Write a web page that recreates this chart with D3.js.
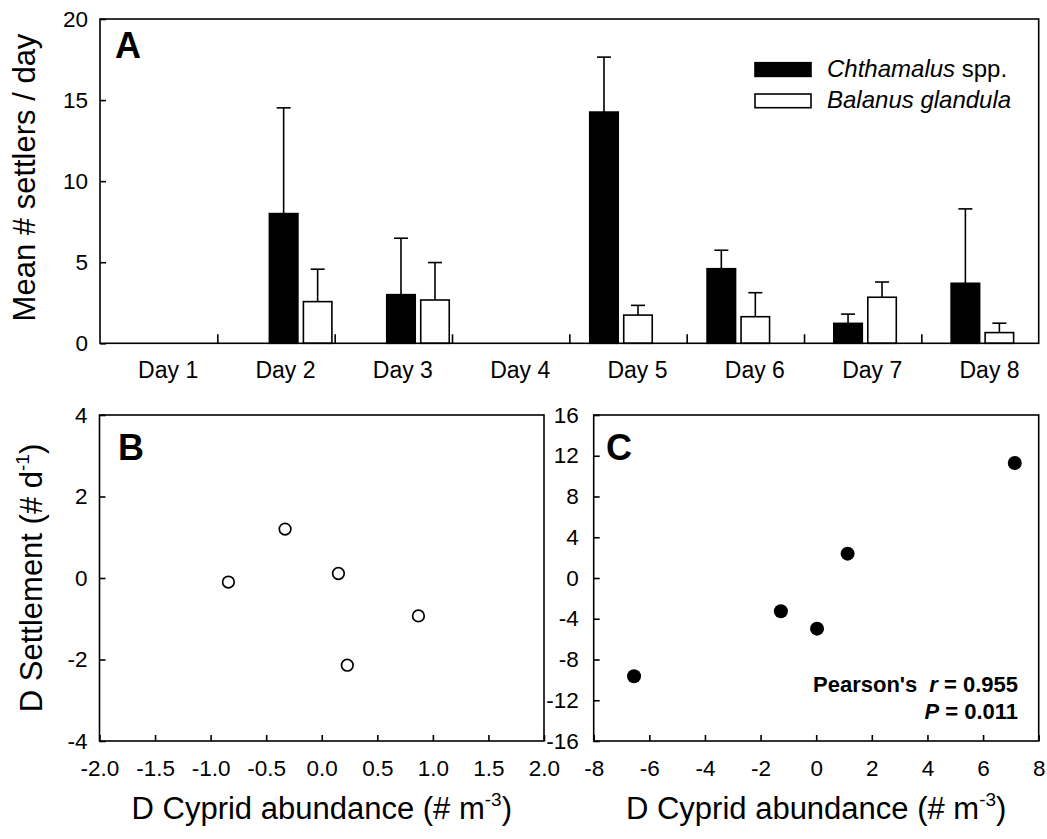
<!DOCTYPE html>
<html>
<head>
<meta charset="utf-8">
<script src="https://cdn.jsdelivr.net/npm/d3@7"></script>
<style>
  html, body { margin: 0; padding: 0; background: #fff; }
  svg { display: block; }
  text { font-family: "Liberation Sans", Arial, Helvetica, sans-serif; fill: #000; }
</style>
</head>
<body>
<svg id="chart" width="1047" height="839"></svg>
<script>
// ---------- Panel A data ----------
const days = ["Day 1", "Day 2", "Day 3", "Day 4", "Day 5", "Day 6", "Day 7", "Day 8"];
// plotted position of each day's bar pair (in day units, as in the original figure)
const barPos = [null, 2.21, 3.21, null, 4.94, 5.94, 7.02, 8.02];
const chthamalus   = [0, 8.0, 3.0, 0, 14.26, 4.6, 1.23, 3.7];
const chthamalusSE = [0, 6.52, 3.48, 0, 3.39, 1.14, 0.57, 4.59];
const balanus      = [0, 2.57, 2.67, 0, 1.74, 1.64, 2.84, 0.66];
const balanusSE    = [0, 2.0, 2.31, 0, 0.6, 1.48, 0.94, 0.58];
const seriesNames = ["Chthamalus", "Balanus glandula"];
const yTicksA = [0, 5, 10, 15, 20];

// ---------- Panel B data ----------
const cypridB = [-0.84, -0.33, 0.15, 0.23, 0.87];
const settleB = [-0.10, 1.20, 0.11, -2.14, -0.93];
const xTicksB = [-2.0, -1.5, -1.0, -0.5, 0.0, 0.5, 1.0, 1.5, 2.0];
const yTicksB = [-4, -2, 0, 2, 4];

// ---------- Panel C data ----------
const cypridC = [-6.55, -1.27, 0.03, 1.13, 7.14];
const settleC = [-9.65, -3.27, -4.97, 2.39, 11.29];
const xTicksC = [-8, -6, -4, -2, 0, 2, 4, 6, 8];
const yTicksC = [-16, -12, -8, -4, 0, 4, 8, 12, 16];
const pearsonR = "0.955";
const pearsonP = "0.011";

const svg = d3.select("#chart");
const STROKE = 1.6;
const fmtMinus = d => String(d).replace("\u2212", "-");

function frame(g, x0, x1, y0, y1) {
  g.append("rect").attr("x", x0).attr("y", y0).attr("width", x1 - x0).attr("height", y1 - y0)
    .attr("fill", "none").attr("stroke", "#000").attr("stroke-width", STROKE);
}
function styleAxis(sel, fs) {
  sel.select(".domain").remove();
  sel.selectAll(".tick line").attr("stroke", "#000").attr("stroke-width", STROKE);
  sel.selectAll(".tick text").attr("font-size", fs).attr("font-family", "Liberation Sans, Arial, sans-serif").attr("fill", "#000");
}

// ================= Panel A =================
const A = { l: 100, r: 1038.7, t: 19, b: 343.3 };
const xA = d3.scaleLinear().domain([0.5, days.length + 0.5]).range([A.l, A.r]);
const yA = d3.scaleLinear().domain([0, 20]).range([A.b, A.t]);
const gA = svg.append("g");

const barW = 28.5, barGap = 5.5;
const barData = [];
days.forEach((d, i) => {
  if (barPos[i] === null) return;
  barData.push({ s: 0, pos: barPos[i], v: chthamalus[i], e: chthamalusSE[i] });
  barData.push({ s: 1, pos: barPos[i], v: balanus[i], e: balanusSE[i] });
});
const bx = d => xA(d.pos) + (d.s === 0 ? -(barW + barGap / 2) : barGap / 2);

// error bars (upper only)
gA.selectAll(".err").data(barData).enter().append("line")
  .attr("x1", d => bx(d) + barW / 2).attr("x2", d => bx(d) + barW / 2)
  .attr("y1", d => yA(d.v)).attr("y2", d => yA(d.v + d.e))
  .attr("stroke", "#000").attr("stroke-width", STROKE);
gA.selectAll(".cap").data(barData).enter().append("line")
  .attr("x1", d => bx(d) + barW / 2 - 7).attr("x2", d => bx(d) + barW / 2 + 7)
  .attr("y1", d => yA(d.v + d.e)).attr("y2", d => yA(d.v + d.e))
  .attr("stroke", "#000").attr("stroke-width", STROKE);
gA.selectAll(".bar").data(barData).enter().append("rect")
  .attr("x", bx).attr("width", barW)
  .attr("y", d => yA(d.v)).attr("height", d => yA(0) - yA(d.v))
  .attr("fill", d => d.s === 0 ? "#000" : "#fff")
  .attr("stroke", "#000").attr("stroke-width", STROKE);

frame(gA, A.l, A.r, A.t, A.b);

gA.append("g").attr("transform", `translate(${A.l},0)`)
  .call(d3.axisLeft(yA).tickValues(yTicksA).tickSize(-6).tickPadding(12).tickFormat(d3.format("d")))
  .call(s => styleAxis(s, 22.5));
// group separator ticks
gA.append("g").attr("transform", `translate(0,${A.b})`)
  .call(d3.axisBottom(xA).tickValues(d3.range(1.5, days.length, 1)).tickSize(-9).tickFormat(""))
  .call(s => styleAxis(s, 22));
// day labels (drawn slightly right of band centres, as in the original)
gA.append("g").attr("transform", `translate(9,${A.b})`)
  .call(d3.axisBottom(xA).tickValues(d3.range(1, days.length + 1)).tickSize(0).tickPadding(18.5).tickFormat(i => days[i - 1]))
  .call(s => styleAxis(s, 23));

gA.append("text").attr("x", 115).attr("y", 58.3).attr("font-size", 36).attr("font-weight", "bold").text("A");

gA.append("text").attr("transform", `translate(35,177.5) rotate(-90)`)
  .attr("text-anchor", "middle").attr("font-size", 31).text("Mean # settlers / day");

// legend
const legY = [62.7, 94];
seriesNames.forEach((n, i) => {
  gA.append("rect").attr("x", 755).attr("y", legY[i]).attr("width", 56).attr("height", 13.7)
    .attr("fill", i === 0 ? "#000" : "#fff").attr("stroke", "#000").attr("stroke-width", STROKE);
  const t = gA.append("text").attr("x", 827).attr("y", legY[i] + 14.2).attr("font-size", 24);
  t.append("tspan").attr("font-style", "italic").text(n);
  if (i === 0) t.append("tspan").text(" spp.");
});

// ================= Scatter panels =================
function scatterPanel(P, xDom, yDom, xTicks, yTicks, xFmt, xs, ys, filled, letter, letterX, yPad) {
  const x = d3.scaleLinear().domain(xDom).range([P.l, P.r]);
  const y = d3.scaleLinear().domain(yDom).range([P.b, P.t]);
  const g = svg.append("g");
  frame(g, P.l, P.r, P.t, P.b);
  g.append("g").attr("transform", `translate(${P.l},0)`)
    .call(d3.axisLeft(y).tickValues(yTicks).tickSize(-6).tickPadding(yPad).tickFormat(d => fmtMinus(String(d))))
    .call(s => styleAxis(s, 22.5));
  g.append("g").attr("transform", `translate(0,${P.b})`)
    .call(d3.axisBottom(x).tickValues(xTicks).tickSize(-6).tickPadding(19).tickFormat(xFmt))
    .call(s => styleAxis(s, 22.5));
  g.selectAll(".pt").data(xs.map((v, i) => [v, ys[i]])).enter().append("circle")
    .attr("cx", d => x(d[0])).attr("cy", d => y(d[1]))
    .attr("r", filled ? 7 : 5.8)
    .attr("fill", filled ? "#000" : "#fff")
    .attr("stroke", "#000").attr("stroke-width", filled ? 0 : 1.7);
  g.append("text").attr("x", letterX).attr("y", 459.5).attr("font-size", 36).attr("font-weight", "bold").text(letter);
  // x title
  const t = g.append("text").attr("x", (P.l + P.r) / 2).attr("y", 819).attr("text-anchor", "middle").attr("font-size", 31);
  t.append("tspan").text("D Cyprid abundance (# m");
  t.append("tspan").attr("font-size", 19).attr("dy", -13).text("-3");
  t.append("tspan").attr("dy", 13).text(")");
  return { x, y, g };
}

const B = { l: 99.5, r: 544, t: 415, b: 741 };
scatterPanel(B, [-2, 2], [-4, 4], xTicksB, yTicksB, d => d.toFixed(1), cypridB, settleB, false, "B", 118, 12);

const C = { l: 593.7, r: 1038.7, t: 415, b: 741 };
const pc = scatterPanel(C, [-8, 8], [-16, 16], xTicksC, yTicksC, d => String(d), cypridC, settleC, true, "C", 606, 15);

// y title for B/C
const yt = svg.append("text").attr("transform", `translate(42,${(B.t + B.b) / 2}) rotate(-90)`)
  .attr("text-anchor", "middle").attr("font-size", 31);
yt.append("tspan").text("D Settlement (# d");
yt.append("tspan").attr("font-size", 19).attr("dy", -13).text("-1");
yt.append("tspan").attr("dy", 13).text(")");

// Pearson annotation
const s1 = pc.g.append("text").attr("x", 1018).attr("y", 692).attr("text-anchor", "end").attr("font-size", 22).attr("font-weight", "bold");
s1.append("tspan").text("Pearson's");
s1.append("tspan").attr("dx", 12).attr("font-style", "italic").text("r");
s1.append("tspan").text(" = " + pearsonR);
const s2 = pc.g.append("text").attr("x", 1018).attr("y", 718.5).attr("text-anchor", "end").attr("font-size", 22).attr("font-weight", "bold");
s2.append("tspan").attr("font-style", "italic").text("P");
s2.append("tspan").text(" = " + pearsonP);
</script>
</body>
</html>
